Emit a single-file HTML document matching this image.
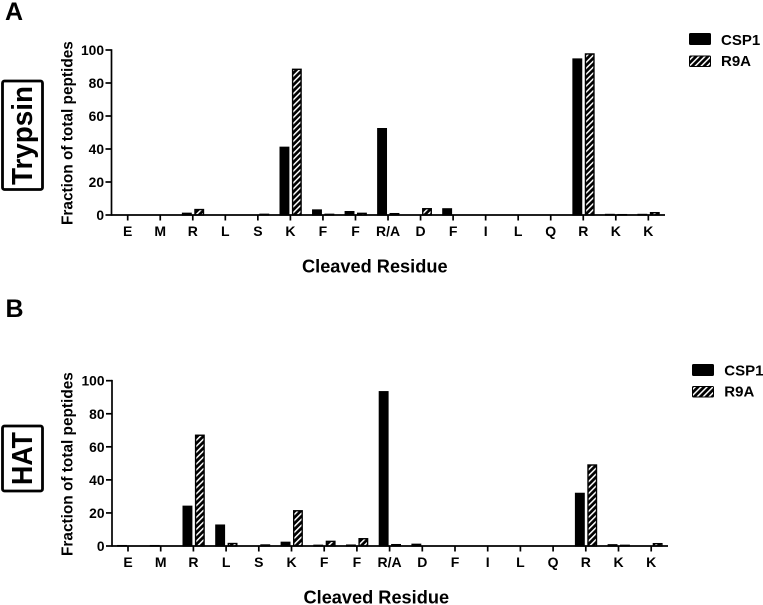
<!DOCTYPE html>
<html lang="en">
<head>
<meta charset="utf-8">
<title>Fraction of total peptides by cleaved residue</title>
<style>
html,body{margin:0;padding:0;background:#fff;}
svg{display:block;}
text{font-family:"Liberation Sans",Arial,sans-serif;fill:#000;}
.b{font-weight:bold;}
</style>
</head>
<body>
<svg id="figure" xmlns="http://www.w3.org/2000/svg" width="763" height="605" viewBox="0 0 763 605">
<defs>
<pattern id="hatch" patternUnits="userSpaceOnUse" width="4.2" height="4.2" patternTransform="rotate(45)">
<rect width="4.2" height="4.2" fill="#000"/>
<rect x="0" y="0" width="1.5" height="4.2" fill="#fff"/>
</pattern>
</defs>
<rect width="763" height="605" fill="#fff"/>

<text class="b" x="5" y="20" font-size="25">A</text>
<text class="b" x="5.5" y="317" font-size="25">B</text>

<rect x="2.5" y="81" width="40" height="108.5" rx="2" fill="#fff" stroke="#000" stroke-width="2.8"/>
<text class="b" transform="translate(32,185) rotate(-90)" font-size="29" textLength="99" lengthAdjust="spacingAndGlyphs">Trypsin</text>
<rect x="2.5" y="426" width="40" height="65" rx="2" fill="#fff" stroke="#000" stroke-width="2.8"/>
<text class="b" transform="translate(32,485) rotate(-90)" font-size="29" textLength="53" lengthAdjust="spacingAndGlyphs">HAT</text>

<g>
<rect x="689.5" y="33.5" width="21" height="11" rx="1" fill="#000" stroke="#000"/>
<text class="b" x="721" y="45" font-size="15">CSP1</text>
<rect x="689.5" y="56" width="21" height="10.5" rx="1" fill="url(#hatch)" stroke="#000"/>
<text class="b" x="721" y="66" font-size="15">R9A</text>
</g>
<g>
<rect x="692.5" y="364.5" width="21" height="11" rx="1" fill="#000" stroke="#000"/>
<text class="b" x="724.3" y="375.5" font-size="15">CSP1</text>
<rect x="692.5" y="386.5" width="21" height="10.5" rx="1" fill="url(#hatch)" stroke="#000"/>
<text class="b" x="724.3" y="396.7" font-size="15">R9A</text>
</g>

<g id="chart-a"></g>
<g id="chart-b"></g>
</svg>

<script>
const categories = ["E","M","R","L","S","K","F","F","R/A","D","F","I","L","Q","R","K","K"];
const yTickLabels = [0,20,40,60,80,100];
const trypsinCsp1 = [0,0,1,0,0,41,3,2,52.3,0,3.7,0,0,0,94.5,0.3,0.3];
const trypsinR9a = [0,0,3.3,0,0.4,88.3,0.4,1,0.8,3.8,0,0,0,0,97.6,0.2,1.4];
const hatCsp1 = [0.2,0.2,24,12.6,0,2.2,0.4,0.5,93.3,1,0,0,0,0,31.8,0.7,0];
const hatR9a = [0,0,67,1.5,0.6,21.3,2.8,4.4,0.8,0,0,0,0,0,49,0.4,1.4];
const yTitle = "Fraction of total peptides";
const xTitle = "Cleaved Residue";

const NS = "http://www.w3.org/2000/svg";

function make(parent, tag, attrs) {
  const el = document.createElementNS(NS, tag);
  Object.keys(attrs).forEach(function (k) { el.setAttribute(k, attrs[k]); });
  parent.appendChild(el);
  return el;
}

function drawChart(root, s1, s2, g) {
  const yMax = yTickLabels[yTickLabels.length - 1];
  const yScale = function (v) { return g.y0 - (v / yMax) * (g.y0 - g.y100); };
  const xScale = function (i) { return g.x0 + i * g.step; };

  categories.forEach(function (c, i) {
    const cx = xScale(i);
    const top1 = yScale(s1[i]);
    const bar1 = make(root, "rect", {x: cx - 10.2, y: top1, width: 8.5, height: Math.max(0, g.y0 - top1), fill: "#000", stroke: "#000", "stroke-width": 1.4});
    
    
    const top2 = yScale(s2[i]);
    const bar2 = make(root, "rect", {x: cx + 2.2, y: top2, width: 8.5, height: Math.max(0, g.y0 - top2), fill: "url(#hatch)", stroke: "#000", "stroke-width": 1.4});
    
    
  });

  const yAxis = make(root, "line", {x1: g.xa, x2: g.xa, y1: g.y100 - 0.8, y2: g.y0 + 0.8, stroke: "#000", "stroke-width": 1.7});
  
  
  const xAxis = make(root, "line", {x1: g.xa, x2: g.xEnd, y1: g.y0, y2: g.y0, stroke: "#000", "stroke-width": 1.7});
  
  

  yTickLabels.forEach(function (t) {
    const y = yScale(t);
    const tick = make(root, "line", {x1: g.xa - 6, x2: g.xa, y1: y, y2: y, stroke: "#000", "stroke-width": 1.7});
    
    
    const lab = make(root, "text", {x: g.xa - 7.5, y: y + 5, "font-size": 13.8, "font-weight": "bold", "text-anchor": "end"});
    lab.textContent = String(t);
    
    
  });

  categories.forEach(function (c, i) {
    const x = xScale(i);
    const tick = make(root, "line", {x1: x, x2: x, y1: g.y0, y2: g.y0 + 5.5, stroke: "#000", "stroke-width": 1.7});
    
    
    const lab = make(root, "text", {x: x, y: g.y0 + 21, "font-size": 14, "font-weight": "bold", "text-anchor": "middle"});
    lab.textContent = c;
    
    
  });

  const yt = make(root, "text", {transform: "translate(72.5," + g.yTitleY + ") rotate(-90)", "font-size": 15.4, "font-weight": "bold"});
  yt.textContent = yTitle;
  
  
  const xt = make(root, "text", {x: g.xTitleX, y: g.xTitleY, "font-size": 18.2, "font-weight": "bold"});
  xt.textContent = xTitle;
  
  
}

drawChart(document.getElementById("chart-a"), trypsinCsp1, trypsinR9a, {
  y0: 215, y100: 50, xa: 111.5, xEnd: 665, x0: 127.7, step: 32.54, yTitleY: 225, xTitleX: 302, xTitleY: 272.7
});
drawChart(document.getElementById("chart-b"), hatCsp1, hatR9a, {
  y0: 546, y100: 380.7, xa: 112, xEnd: 668, x0: 128, step: 32.7, yTitleY: 556, xTitleX: 303.5, xTitleY: 603.3
});
</script>
</body>
</html>
